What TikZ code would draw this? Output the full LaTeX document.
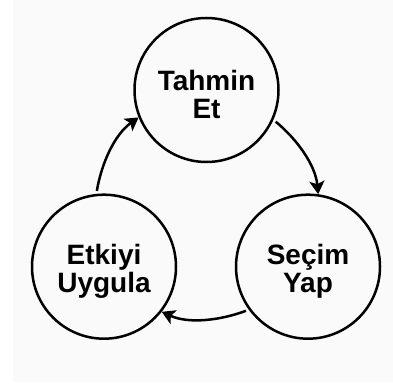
\documentclass[tikz,border=0pt]{standalone}
\usepackage{fontspec}
\setmainfont{Liberation Sans}
\usetikzlibrary{arrows.meta}
\definecolor{bg}{HTML}{FAFAFA}
\begin{document}
\begin{tikzpicture}[x=1pt,y=1pt,
  stage/.style={circle, draw=black, line width=2.5pt, minimum size=144pt, inner sep=0pt},
  lab/.style={align=center, yshift=-4.5pt, inner sep=0pt, font=\bfseries\fontsize{28}{28.5}\selectfont},
  flow/.style={line width=2.5pt, -{Stealth[length=13pt,width=15pt,inset=3pt]}, looseness=0.88, shorten <=3pt}]
\useasboundingbox (0,0) rectangle (393,383);
\fill[bg] (13.3,1) rectangle (393,383);
\node[stage, label={[lab]center:{Tahmin\\Et}}] (top) at (206.5,293) {};
\node[stage, label={[lab]center:{Seçim\\Yap}}] (right) at (308,116.3) {};
\node[stage, label={[lab]center:{Etkiyi\\Uygula}}] (left) at (104,116.3) {};
\draw[flow] (top.-24) to[out=-39.5,in=95.5] (right.82);
\draw[flow] (right.216) to[out=-159.5,in=-24.5] (left.-38);
\draw[flow] (left.96) to[out=80.5,in=215.5] (top.202);
\end{tikzpicture}
\end{document}
